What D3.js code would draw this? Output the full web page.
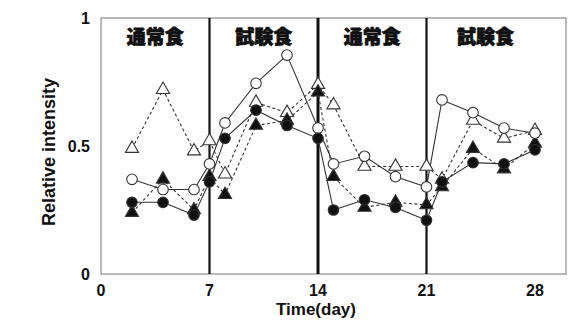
<!DOCTYPE html>
<html><head><meta charset="utf-8">
<script src="https://cdn.jsdelivr.net/npm/d3@7/dist/d3.min.js"></script>
<style>body{margin:0;background:#fff}svg{display:block}</style>
</head><body><svg id="c" width="580" height="325"></svg>
<script>
const days = [2,4,6,7,8,10,12,14,15,17,19,21,22,24,26,28];
const openCircle    = [0.37,0.33,0.33,0.43,0.59,0.745,0.855,0.57,0.43,0.46,0.38,0.34,0.68,0.63,0.57,0.55];
const openTriangle  = [0.49,0.72,0.48,0.52,0.39,0.67,0.63,0.74,0.66,0.42,0.42,0.42,0.37,0.60,0.53,0.56];
const filledCircle  = [0.28,0.28,0.23,0.36,0.53,0.64,0.58,0.53,0.25,0.29,0.26,0.21,0.36,0.435,0.43,0.485];
const filledTriangle= [0.24,0.37,0.25,0.38,0.31,0.58,0.60,0.71,0.38,0.26,0.28,0.27,0.34,0.49,0.41,0.51];
const xTicks = [0,7,14,21,28];
const yTicks = [0,0.5,1];
const yTickLabels = ["0","0.5","1"];
const dividers = [7,14,21];
const periodLabels = [{t:"通常食",d:3.5},{t:"試験食",d:10.5},{t:"通常食",d:17.5},{t:"試験食",d:24.8}];

const svg = d3.select("#c");
const x = d3.scaleLinear().domain([0,30]).range([101,566]);
const y = d3.scaleLinear().domain([0,1]).range([274,18]);
const font = "'Liberation Sans', Arial, sans-serif";

// frame
svg.append("rect").attr("x",x(0)).attr("y",y(1)).attr("width",x(30)-x(0)).attr("height",y(0)-y(1))
  .attr("fill","none").attr("stroke","#8a8a8a").attr("stroke-width",1.2);

// dividers
svg.selectAll(".div").data(dividers).join("line")
  .attr("x1",d=>x(d)).attr("x2",d=>x(d)).attr("y1",y(1)).attr("y2",y(0))
  .attr("stroke","#111").attr("stroke-width",d=>d===14?3:2.2);

// period labels
svg.selectAll(".pl").data(periodLabels).join("text")
  .attr("x",d=>x(d.d)).attr("y",44).attr("text-anchor","middle")
  .attr("font-family","'Noto Sans CJK JP', sans-serif").attr("font-weight",900)
  .attr("font-size",19).attr("fill","#111").attr("stroke","#111").attr("stroke-width",0.7)
  .text(d=>d.t);

// ticks
svg.selectAll(".xt").data(xTicks).join("text")
  .attr("x",d=>x(d)).attr("y",296).attr("text-anchor","middle")
  .attr("font-family",font).attr("font-weight","bold").attr("font-size",16).attr("fill","#111")
  .text(d=>d);
svg.selectAll(".yt").data(yTicks).join("text")
  .attr("x",90).attr("y",d=>y(d)+6).attr("text-anchor","end")
  .attr("font-family",font).attr("font-weight","bold").attr("font-size",16).attr("fill","#111")
  .text((d,i)=>yTickLabels[i]);

svg.append("text").attr("x",316).attr("y",315).attr("text-anchor","middle")
  .attr("font-family",font).attr("font-weight","bold").attr("font-size",17).attr("fill","#111")
  .text("Time(day)");
svg.append("text").attr("transform","translate(55,152) rotate(-90)").attr("text-anchor","middle")
  .attr("font-family",font).attr("font-weight","bold").attr("font-size",18).attr("fill","#111")
  .text("Relative intensity");

const series = [
  {v:openTriangle, dash:"3,2.5", shape:"tri", fill:"#fff"},
  {v:filledTriangle, dash:"3,2.5", shape:"tri", fill:"#111"},
  {v:openCircle, dash:null, shape:"circ", fill:"#fff"},
  {v:filledCircle, dash:null, shape:"circ", fill:"#111"}
];
const line = d3.line().x((d,i)=>x(days[i])).y(d=>y(d));
series.forEach(s=>{
  svg.append("path").attr("d",line(s.v)).attr("fill","none").attr("stroke","#333")
    .attr("stroke-width",1.1).attr("stroke-dasharray",s.dash);
});
series.forEach(s=>{
  const g = svg.append("g");
  if (s.shape==="circ") {
    g.selectAll("circle").data(s.v).join("circle")
      .attr("cx",(d,i)=>x(days[i])).attr("cy",d=>y(d)).attr("r",5.3)
      .attr("fill",s.fill).attr("stroke","#333").attr("stroke-width",1.1);
  } else {
    const sym = d3.symbol().type(d3.symbolTriangle).size(75);
    g.selectAll("path").data(s.v).join("path")
      .attr("d",sym).attr("transform",(d,i)=>`translate(${x(days[i])},${y(d)})`)
      .attr("fill",s.fill).attr("stroke","#333").attr("stroke-width",1.1);
  }
});
</script></body></html>
